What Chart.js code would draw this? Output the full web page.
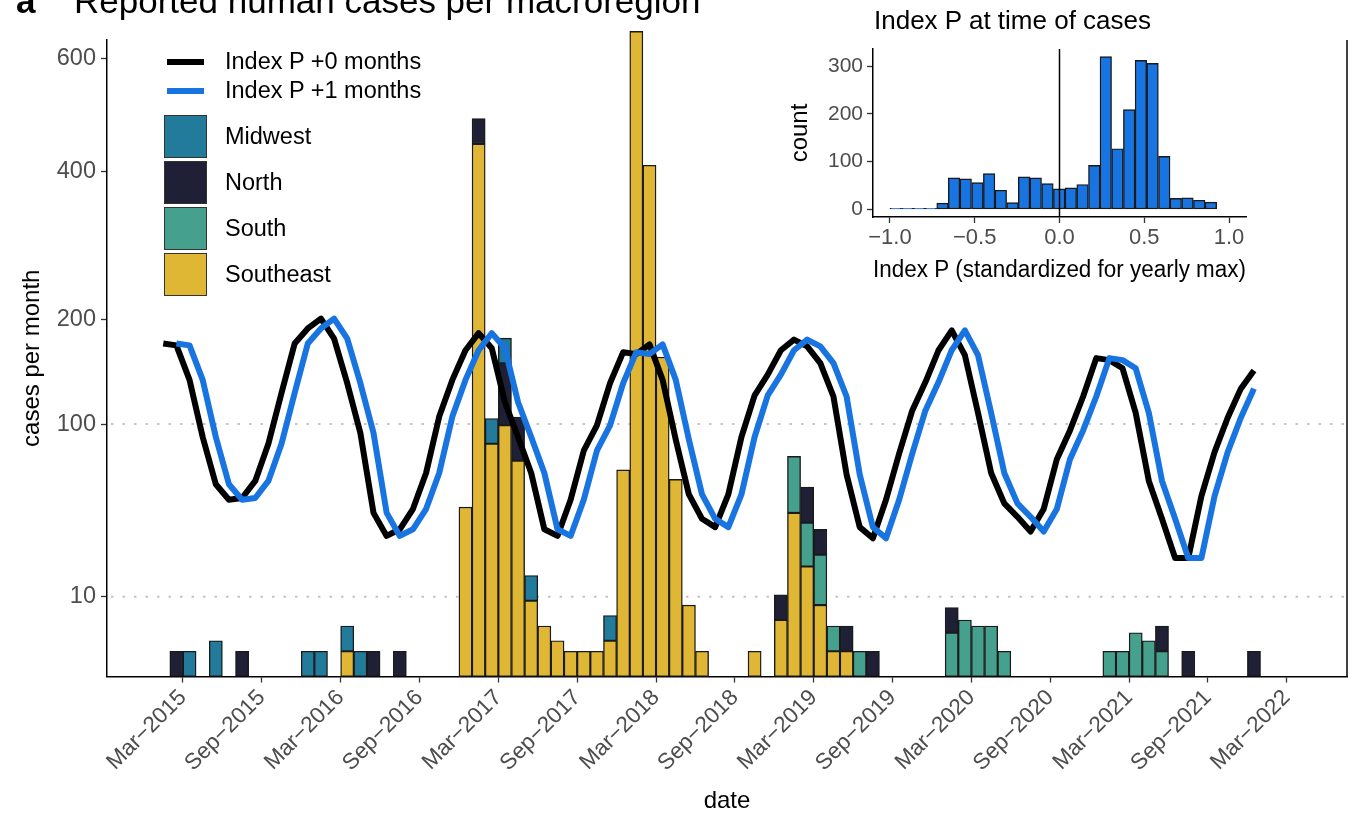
<!DOCTYPE html>
<html>
<head>
<meta charset="utf-8">
<script src="https://cdn.jsdelivr.net/npm/chart.js@4.4.0/dist/chart.umd.min.js"></script>
<style>
  html, body { margin: 0; padding: 0; background: #fff; overflow: hidden; }
  body { width: 1349px; height: 816px; position: relative; font-family: "Liberation Sans", Arial, sans-serif; }
  canvas { position: absolute; }
  #main { left: 0; top: 0; }
  #inset { left: 760px; top: 0; }
  .txt { position: absolute; white-space: nowrap; line-height: 1; color: #000; }
  .lg-line { position: absolute; left: 167px; width: 37px; height: 6px; }
  .lg-box { position: absolute; left: 164px; width: 41px; height: 41px; border: 1.5px solid #333; }
  .lg-label { position: absolute; left: 225px; font-size: 23.5px; line-height: 1; transform: translateY(-50%); white-space: nowrap; }
</style>
</head>
<body>
<canvas id="main" width="1349" height="816"></canvas>
<canvas id="inset" width="520" height="300"></canvas>

<div class="txt" style="left:16px; top:-17px; font-size:35px; font-weight:bold;">a</div>
<div class="txt" style="left:74px; top:-17px; font-size:35px;">Reported human cases per macroregion</div>
<div class="txt" style="left:874px; top:7px; font-size:26px;">Index P at time of cases</div>

<div class="lg-line" style="top:58.5px; background:#000;"></div>
<div class="lg-label" style="top:62px;">Index P +0 months</div>
<div class="lg-line" style="top:88px; background:#1874e0;"></div>
<div class="lg-label" style="top:91px;">Index P +1 months</div>
<div class="lg-box" style="top:115px; background:#237b9b;"></div>
<div class="lg-label" style="top:137px;">Midwest</div>
<div class="lg-box" style="top:161px; background:#1f2035;"></div>
<div class="lg-label" style="top:183px;">North</div>
<div class="lg-box" style="top:207px; background:#45a18d;"></div>
<div class="lg-label" style="top:229px;">South</div>
<div class="lg-box" style="top:253px; background:#e0b734;"></div>
<div class="lg-label" style="top:275px;">Southeast</div>

<script>
// month index: 0 = Jan-2015, bars and line points sit in the middle of the month
const xTickMonths = [2, 8, 14, 20, 26, 32, 38, 44, 50, 56, 62, 68, 74, 80, 86];
const xTickLabels = ['Mar\u22122015', 'Sep\u22122015', 'Mar\u22122016', 'Sep\u22122016', 'Mar\u22122017',
    'Sep\u22122017', 'Mar\u22122018', 'Sep\u22122018', 'Mar\u22122019', 'Sep\u22122019', 'Mar\u22122020',
    'Sep\u22122020', 'Mar\u22122021', 'Sep\u22122021', 'Mar\u22122022'];
const yTickValues = [10, 100, 200, 400, 600];
const yGuideValues = [10, 100];

// monthly cases per macroregion (month index, cases)
const midwestMonths = [2, 4, 11, 12, 14, 15, 25, 26, 28, 34];
const midwestCases  = [1, 2, 1, 1, 1, 1, 1, 1, 1, 1];
const northMonths = [1, 6, 16, 18, 24, 26, 27, 47, 49, 50, 52, 54, 60, 76, 78, 83];
const northCases  = [1, 1, 1, 1, 1, 6, 3, 1, 2, 1, 1, 1, 1, 1, 1, 1];
const southMonths = [48, 49, 50, 51, 53, 60, 61, 62, 63, 64, 72, 73, 74, 75, 76];
const southCases  = [5, 3, 4, 1, 1, 3, 5, 4, 4, 1, 1, 1, 3, 2, 1];
const southeastMonths = [14, 23, 24, 25, 26, 27, 28, 29, 30, 31, 32, 33, 34, 35, 36, 37, 38, 39, 40, 41, 45, 47, 48, 49, 50, 51, 52];
const southeastCases  = [1, 45, 445, 85, 99, 73, 9, 4, 2, 1, 1, 1, 2, 67, 653, 410, 160, 61, 8, 1, 1, 5, 42, 19, 8, 1, 1];

// Index P on the case axis, Jan-2015 .. Dec-2021
const indexP0 = [174, 172, 138, 90, 58, 49, 50, 60, 85, 126, 174, 190,
                 201, 179, 135, 93, 42, 31, 34, 44, 65, 106, 138, 167,
                 185, 169, 118, 90, 65, 34, 31, 49, 80, 99, 135, 165,
                 163, 173, 138, 88, 52, 39, 35, 52, 90, 124, 143, 167,
                 178, 171, 154, 123, 64, 35, 30, 49, 78, 111, 136, 167,
                 188, 162, 109, 65, 47, 40, 33, 44, 74, 95, 123, 159,
                 157, 149, 109, 60, 39, 22, 22, 51, 79, 105, 130, 147];
const indexP1 = [null, 174, 172, 138, 90, 58, 49, 50, 60, 85, 126, 174,
                 190, 201, 179, 135, 93, 42, 31, 34, 44, 65, 106, 138,
                 167, 185, 169, 118, 90, 65, 34, 31, 49, 80, 99, 135,
                 165, 163, 173, 138, 88, 52, 39, 35, 52, 90, 124, 143,
                 167, 178, 171, 154, 123, 64, 35, 30, 49, 78, 111, 136,
                 167, 188, 162, 109, 65, 47, 40, 33, 44, 74, 95, 123,
                 159, 157, 149, 109, 60, 39, 22, 22, 51, 79, 105, 130];

// inset histogram
const histBinCentres = [-0.966, -0.897, -0.828, -0.759, -0.690, -0.622, -0.553, -0.484, -0.415, -0.346,
                        -0.277, -0.209, -0.140, -0.071, -0.002, 0.067, 0.136, 0.205, 0.273, 0.342,
                        0.411, 0.480, 0.549, 0.618, 0.686, 0.755, 0.824, 0.893];
const histCounts = [2, 2, 2, 2, 13, 66, 64, 56, 75, 40, 14, 68, 66, 54, 43, 45, 52, 92, 320, 127,
                    209, 312, 306, 111, 23, 24, 19, 15];
const histXTicks = [-1, -0.5, 0, 0.5, 1];
const histXLabels = ['\u22121.0', '\u22120.5', '0.0', '0.5', '1.0'];
const histYTicks = [0, 100, 200, 300];

const COLORS = {
    midwest: '#237b9b',
    north: '#1f2035',
    south: '#45a18d',
    southeast: '#e0b734',
    p0: '#000000',
    p1: '#1874e0'
};

Chart.defaults.font.family = "'Liberation Sans', Arial, sans-serif";
Chart.defaults.animation = false;

// y axis of the main panel is a square-root scale: values are plotted as sqrt(cases)
const Y_TOP = 25.21;

function barPoints(months, cases) {
    return months.map((m, i) => ({ x: m + 0.5, y: Math.sqrt(cases[i]) }));
}
function linePoints(values) {
    const pts = [];
    values.forEach((v, i) => {
        if (v !== null) pts.push({ x: i + 0.5, y: Math.sqrt(v) });
    });
    return pts;
}

const barStyle = {
    type: 'bar',
    borderColor: '#1a1a1a',
    borderWidth: 1.4,
    borderSkipped: false,
    barPercentage: 1,
    categoryPercentage: 1,
    yAxisID: 'y',
    order: 2
};

// dotted guide lines at 10 and 100, plus the frame on the right
const guideLines = {
    id: 'guideLines',
    beforeDatasetsDraw(chart) {
        const { ctx, chartArea: a, scales: { y } } = chart;
        ctx.save();
        ctx.strokeStyle = '#c4c4c4';
        ctx.lineWidth = 2;
        ctx.setLineDash([2.5, 9]);
        yGuideValues.forEach(v => {
            const py = y.getPixelForValue(Math.sqrt(v));
            ctx.beginPath();
            ctx.moveTo(a.left + 4, py);
            ctx.lineTo(a.right, py);
            ctx.stroke();
        });
        ctx.setLineDash([]);
        ctx.strokeStyle = '#000';
        ctx.lineWidth = 1.5;
        ctx.beginPath();
        ctx.moveTo(a.right, a.top);
        ctx.lineTo(a.right, a.bottom);
        ctx.stroke();
        ctx.restore();
    }
};

new Chart(document.getElementById('main'), {
    data: {
        datasets: [
            { ...barStyle, label: 'Southeast', data: barPoints(southeastMonths, southeastCases), backgroundColor: COLORS.southeast, clip: false },
            { ...barStyle, label: 'South', data: barPoints(southMonths, southCases), backgroundColor: COLORS.south },
            { ...barStyle, label: 'North', data: barPoints(northMonths, northCases), backgroundColor: COLORS.north },
            { ...barStyle, label: 'Midwest', data: barPoints(midwestMonths, midwestCases), backgroundColor: COLORS.midwest },
            {
                type: 'line', label: 'Index P +0 months', data: linePoints(indexP0),
                borderColor: COLORS.p0, borderWidth: 6, pointRadius: 0, tension: 0,
                borderJoinStyle: 'round', yAxisID: 'yl', order: 1
            },
            {
                type: 'line', label: 'Index P +1 months', data: linePoints(indexP1),
                borderColor: COLORS.p1, borderWidth: 6, pointRadius: 0, tension: 0,
                borderJoinStyle: 'round', yAxisID: 'yl', order: 0
            }
        ]
    },
    options: {
        responsive: false,
        layout: { padding: { left: 0, right: 2, top: 40, bottom: 0 } },
        plugins: { legend: { display: false }, tooltip: { enabled: false } },
        scales: {
            x: {
                type: 'linear', stacked: true, min: -3.78, max: 90.58, offset: false,
                afterBuildTicks: s => { s.ticks = xTickMonths.map(v => ({ value: v })); },
                afterFit: s => { s.height = 139.5; },
                grid: { offset: false, drawOnChartArea: false, tickLength: 6, tickColor: '#333', tickWidth: 1.3 },
                border: { color: '#000', width: 1.5 },
                ticks: {
                    autoSkip: false, minRotation: 45, maxRotation: 45, padding: 2,
                    color: '#4d4d4d', font: { size: 22.5 },
                    callback: v => xTickLabels[xTickMonths.indexOf(v)]
                },
                title: { display: true, text: 'date', color: '#000', font: { size: 24 }, padding: { top: 0, bottom: 0 } }
            },
            y: {
                type: 'linear', stacked: true, min: 0, max: Y_TOP,
                afterBuildTicks: s => { s.ticks = yTickValues.map(v => ({ value: Math.sqrt(v) })); },
                afterFit: s => { s.width = 107; },
                grid: { drawOnChartArea: false, tickLength: 6, tickColor: '#333', tickWidth: 1.3 },
                border: { color: '#000', width: 1.5 },
                ticks: {
                    padding: 5, color: '#4d4d4d', font: { size: 23.5 },
                    callback: v => String(Math.round(v * v))
                },
                title: { display: true, text: 'cases per month', color: '#000', font: { size: 24 }, padding: { top: 18, bottom: 0 } }
            },
            yl: { type: 'linear', display: false, min: 0, max: Y_TOP }
        }
    },
    plugins: [guideLines]
});

// vertical reference line at Index P = 0
const zeroLine = {
    id: 'zeroLine',
    afterDatasetsDraw(chart) {
        const { ctx, chartArea: a, scales: { x } } = chart;
        const px = x.getPixelForValue(0);
        ctx.save();
        ctx.strokeStyle = '#000';
        ctx.lineWidth = 1.5;
        ctx.beginPath();
        ctx.moveTo(px, a.top);
        ctx.lineTo(px, a.bottom);
        ctx.stroke();
        ctx.restore();
    }
};

new Chart(document.getElementById('inset'), {
    type: 'bar',
    data: {
        datasets: [{
            label: 'count',
            data: histBinCentres.map((c, i) => ({ x: c, y: histCounts[i] })),
            backgroundColor: COLORS.p1,
            borderColor: '#1a1a1a',
            borderWidth: 1.4,
            borderSkipped: false,
            barPercentage: 1,
            categoryPercentage: 1
        }]
    },
    options: {
        responsive: false,
        layout: { padding: { left: 0, right: 34, top: 49, bottom: 0 } },
        plugins: { legend: { display: false }, tooltip: { enabled: false } },
        scales: {
            x: {
                type: 'linear', min: -1.1, max: 1.1, offset: false,
                afterBuildTicks: s => { s.ticks = histXTicks.map(v => ({ value: v })); },
                afterFit: s => { s.height = 83; },
                grid: { offset: false, drawOnChartArea: false, tickLength: 6, tickColor: '#333', tickWidth: 1.3 },
                border: { color: '#000', width: 1.5 },
                ticks: {
                    autoSkip: false, maxRotation: 0, padding: 2, color: '#4d4d4d', font: { size: 22 },
                    callback: v => histXLabels[histXTicks.indexOf(v)]
                },
                title: { display: true, text: 'Index P (standardized for yearly max)', color: '#000', font: { size: 23 }, padding: { top: 0, bottom: 16 } }
            },
            y: {
                type: 'linear', min: -16, max: 336,
                afterBuildTicks: s => { s.ticks = histYTicks.map(v => ({ value: v })); },
                afterFit: s => { s.width = 113; },
                grid: { drawOnChartArea: false, tickLength: 6, tickColor: '#333', tickWidth: 1.3 },
                border: { color: '#000', width: 1.5 },
                ticks: { padding: 4, color: '#4d4d4d', font: { size: 21 } },
                title: { display: true, text: 'count', color: '#000', font: { size: 24 }, padding: { top: 26, bottom: 0 } }
            }
        }
    },
    plugins: [zeroLine]
});
</script>
</body>
</html>
